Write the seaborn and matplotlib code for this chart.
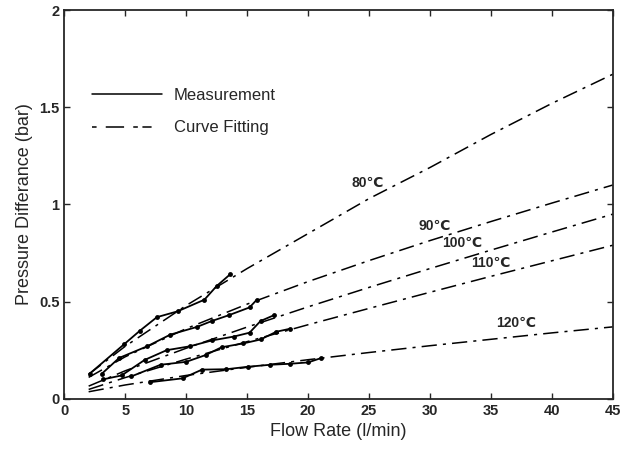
import numpy as np
import pandas as pd
import seaborn as sns
import matplotlib
matplotlib.use("Agg")
import matplotlib.pyplot as plt
from matplotlib.lines import Line2D

# %%
# measured curves (read off the figure)
m80_x = [2.1, 4.9, 6.2, 7.6, 9.3, 11.5, 12.5, 13.6]
m80_y = [0.13, 0.28, 0.35, 0.42, 0.45, 0.51, 0.58, 0.64]

m90_x = [3.1, 4.5, 6.8, 8.7, 10.9, 12.1, 13.5, 15.2, 15.8]
m90_y = [0.13, 0.21, 0.27, 0.33, 0.37, 0.40, 0.43, 0.47, 0.51]

m100_x = [3.2, 4.7, 6.6, 8.4, 10.3, 12.1, 13.9, 15.2, 16.1, 17.2]
m100_y = [0.10, 0.12, 0.20, 0.25, 0.27, 0.30, 0.32, 0.34, 0.40, 0.43]

m110_x = [5.5, 7.9, 10.0, 11.6, 12.9, 14.7, 16.1, 17.4, 18.5]
m110_y = [0.115, 0.175, 0.19, 0.225, 0.265, 0.285, 0.305, 0.345, 0.36]

m120_x = [7.0, 9.7, 11.3, 13.3, 15.1, 16.9, 18.5, 20.0, 21.1]
m120_y = [0.085, 0.105, 0.15, 0.152, 0.165, 0.175, 0.18, 0.187, 0.21]

# %%
# fitted curves
fit_x = [2, 5, 10, 15, 20, 25, 30, 35, 40, 45]
f80_y = [0.126, 0.27, 0.48, 0.67, 0.85, 1.03, 1.19, 1.36, 1.52, 1.67]
f90_y = [0.110, 0.216, 0.361, 0.487, 0.603, 0.711, 0.814, 0.912, 1.007, 1.10]
f100_y = [0.065, 0.144, 0.260, 0.369, 0.473, 0.573, 0.670, 0.765, 0.858, 0.95]
f110_y = [0.048, 0.109, 0.204, 0.294, 0.381, 0.465, 0.548, 0.630, 0.710, 0.79]
f120_y = [0.036, 0.071, 0.120, 0.162, 0.201, 0.238, 0.273, 0.306, 0.339, 0.37]

temp_labels = ["80\u2103", "90\u2103", "100\u2103", "110\u2103", "120\u2103"]
label_x = [24.9, 30.4, 32.6, 35.0, 37.1]
label_y = [1.11, 0.89, 0.80, 0.70, 0.39]

# %%
sns.set_style("ticks")
plt.rcParams["font.family"] = ["Liberation Sans", "DejaVu Sans"]

fig = plt.figure(figsize=(6.24, 4.61), dpi=100)
ax = fig.add_axes([0.103, 0.135, 0.879, 0.843])

fit_style = dict(color="black", lw=1.1, linestyle=(0, (10, 4, 2, 4)))
for fy in [f80_y, f90_y, f100_y, f110_y, f120_y]:
    sns.lineplot(x=fit_x, y=fy, ax=ax, sort=False, estimator=None, **fit_style)

meas = [(m80_x, m80_y), (m90_x, m90_y), (m100_x, m100_y), (m110_x, m110_y), (m120_x, m120_y)]
for mx, my in meas:
    sns.lineplot(x=mx, y=my, ax=ax, sort=False, estimator=None, color="black",
                 lw=1.3, marker="o", markersize=3.5, markeredgewidth=0)

for t, tx, ty in zip(temp_labels, label_x, label_y):
    ax.text(tx, ty, t, fontsize=10, fontweight="bold", ha="center", va="center",
            family=["Liberation Sans", "DejaVu Sans"])

ax.set_xlim(0, 45)
ax.set_ylim(0, 2)
ax.set_xticks(np.arange(0, 46, 5))
ax.set_yticks([0, 0.5, 1, 1.5, 2])
ax.set_yticklabels(["0", "0.5", "1", "1.5", "2"])
ax.tick_params(direction="in", top=True, right=True, length=4, width=1, labelsize=10.5)
for lab in ax.get_xticklabels() + ax.get_yticklabels():
    lab.set_fontweight("bold")
for sp in ax.spines.values():
    sp.set_linewidth(1.3)

ax.set_xlabel("Flow Rate (l/min)", fontsize=13)
ax.set_ylabel("Pressure Differance (bar)", fontsize=13)

handles = [Line2D([], [], color="black", lw=1.1),
           Line2D([], [], color="black", lw=1.1, linestyle=(0, (3, 6, 12, 6, 3)))]
ax.legend(handles, ["Measurement", "Curve Fitting"], loc="upper left",
          bbox_to_anchor=(0.051, 0.80), frameon=False, handlelength=4.2,
          fontsize=12, labelspacing=1.05, handletextpad=0.7,
          borderpad=0, borderaxespad=0)

fig.savefig("out.png", dpi=100)
